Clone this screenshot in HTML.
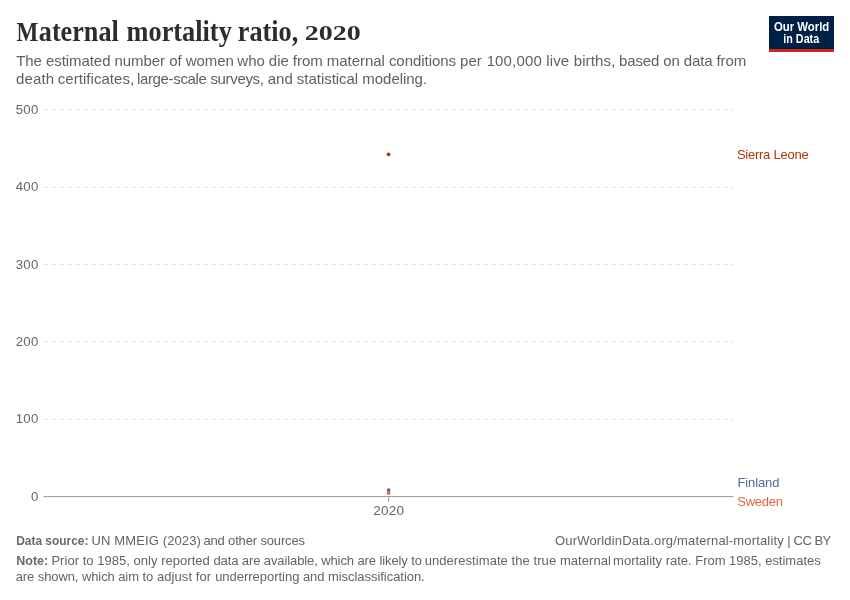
<!DOCTYPE html>
<html><head><meta charset="utf-8">
<style>
html,body{margin:0;padding:0;background:#fff;}
body{width:850px;height:600px;overflow:hidden;}
svg{display:block;will-change:transform;transform:translateZ(0);}
text{font-family:"Liberation Sans",sans-serif;white-space:pre;}
.serif{font-family:"Liberation Serif",serif;}
</style></head>
<body>
<svg width="850" height="600" viewBox="0 0 850 600">
<rect width="850" height="600" fill="#fff"/>
<!-- title -->
<g class="serif" font-weight="700" fill="#2d2d2d">
<text class="serif" x="16.6" y="40.6" font-size="28" textLength="21.8" lengthAdjust="spacingAndGlyphs">M</text>
<text class="serif" x="38.8" y="40.6" font-size="29.5" textLength="80" lengthAdjust="spacingAndGlyphs">aternal</text>
<text class="serif" x="126.6" y="40.6" font-size="29.5" textLength="105.2" lengthAdjust="spacingAndGlyphs">mortality</text>
<text class="serif" x="237.8" y="40.6" font-size="29.5" textLength="60.4" lengthAdjust="spacingAndGlyphs">ratio,</text>
<text class="serif" x="304.8" y="40.3" font-size="20.3" textLength="56" lengthAdjust="spacingAndGlyphs">2020</text>
</g>
<!-- logo -->
<rect x="769" y="16" width="65" height="36" fill="#002147"/>
<rect x="769" y="49" width="65" height="3" fill="#ce261e"/>
<text x="773.9" y="30.8" font-size="12.3" font-weight="700" fill="#fff" textLength="55.4" lengthAdjust="spacingAndGlyphs">Our World</text>
<text x="783.3" y="42.7" font-size="12.3" font-weight="700" fill="#fff" textLength="35.9" lengthAdjust="spacingAndGlyphs">in Data</text>
<!-- gridlines -->
<g stroke="#dddddd" stroke-width="1" stroke-dasharray="4,4" fill="none">
<line x1="43.5" y1="109.9" x2="733.5" y2="109.9"/>
<line x1="43.5" y1="187.3" x2="733.5" y2="187.3"/>
<line x1="43.5" y1="264.6" x2="733.5" y2="264.6"/>
<line x1="43.5" y1="341.9" x2="733.5" y2="341.9"/>
<line x1="43.5" y1="419.3" x2="733.5" y2="419.3"/>
</g>
<line x1="43.5" y1="496.6" x2="733.5" y2="496.6" stroke="#999" stroke-width="1"/>
<line x1="388.6" y1="496.6" x2="388.6" y2="501.8" stroke="#999" stroke-width="1"/>
<!-- y labels -->
<g font-size="13.2" fill="#666" text-anchor="end" letter-spacing="0.25">
<text x="38.5" y="114.0">500</text>
<text x="38.5" y="191.4">400</text>
<text x="38.5" y="268.7">300</text>
<text x="38.5" y="346.0">200</text>
<text x="38.5" y="423.4">100</text>
<text x="38.5" y="500.7">0</text>
</g>
<!-- dots -->
<circle cx="388.6" cy="154.3" r="1.9" fill="#b13507"/>
<circle cx="388.6" cy="490.1" r="1.9" fill="#4c6a9c"/>
<circle cx="388.6" cy="493.0" r="1.9" fill="#e0683f"/>
<!-- text -->
<text x="16.14" y="66.2" font-size="15" fill="#606060" letter-spacing="-0.057">The estimated number of women</text>
<text x="237.37" y="66.2" font-size="15" fill="#606060" letter-spacing="-0.047">who die from maternal conditions per</text>
<text x="486.64" y="66.2" font-size="15" fill="#606060" letter-spacing="0.15">100,000 live births,</text>
<text x="619.01" y="66.2" font-size="15" fill="#606060" letter-spacing="-0.124">based on data from</text>
<text x="16.12" y="84.3" font-size="15" fill="#606060" letter-spacing="0.125">death</text>
<text x="57.79" y="84.3" font-size="15" fill="#606060" letter-spacing="0.045">certificates,</text>
<text x="136.88" y="84.3" font-size="15" fill="#606060" letter-spacing="-0.332">large-scale surveys,</text>
<text x="267.81" y="84.3" font-size="15" fill="#606060" letter-spacing="-0.034">and statistical modeling.</text>
<text x="736.9" y="158.5" font-size="13" fill="#b13507" letter-spacing="-0.245">Sierra Leone</text>
<text x="737.42" y="487.3" font-size="13" fill="#4c6a9c" letter-spacing="-0.098">Finland</text>
<text x="737.3" y="505.9" font-size="13" fill="#e0683f" letter-spacing="-0.262">Sweden</text>
<text x="373.19" y="514.6" font-size="13.6" fill="#666" letter-spacing="0.203">2020</text>
<text x="16.2" y="545.2" font-size="13" font-weight="700" fill="#6a6a6a" textLength="72.2" lengthAdjust="spacingAndGlyphs">Data source:</text>
<text x="91.5" y="545.2" font-size="13" fill="#646464" letter-spacing="0.125">UN MMEIG (2023)</text>
<text x="203.39" y="545.2" font-size="13" fill="#646464" letter-spacing="-0.151">and other sources</text>
<text x="555.05" y="545.2" font-size="13" fill="#646464" letter-spacing="0.158">OurWorldinData.org/maternal-mortality</text>
<text x="787.22" y="545.2" font-size="13" fill="#646464">|</text>
<text x="793.5" y="545.2" font-size="13" fill="#646464" letter-spacing="-0.5">CC BY</text>
<text x="16.2" y="565.1" font-size="13" font-weight="700" fill="#6a6a6a" textLength="32" lengthAdjust="spacingAndGlyphs">Note:</text>
<text x="51.42" y="565.1" font-size="13" fill="#646464" letter-spacing="0.032">Prior to 1985, only reported</text>
<text x="213.42" y="565.1" font-size="13" fill="#646464" letter-spacing="-0.103">data are available, which are likely to</text>
<text x="424.66" y="565.1" font-size="13" fill="#646464" letter-spacing="0.067">underestimate the true maternal</text>
<text x="613.11" y="565.1" font-size="13" fill="#646464" letter-spacing="-0.014">mortality rate. From 1985, estimates</text>
<text x="15.69" y="580.7" font-size="13" fill="#646464" letter-spacing="-0.089">are shown, which aim to</text>
<text x="156.89" y="580.7" font-size="13" fill="#646464" letter-spacing="0.085">adjust for</text>
<text x="215.16" y="580.7" font-size="13" fill="#646464" letter-spacing="-0.027">underreporting</text>
<text x="302.89" y="580.7" font-size="13" fill="#646464" letter-spacing="-0.048">and misclassification.</text>
</svg>
</body></html>
